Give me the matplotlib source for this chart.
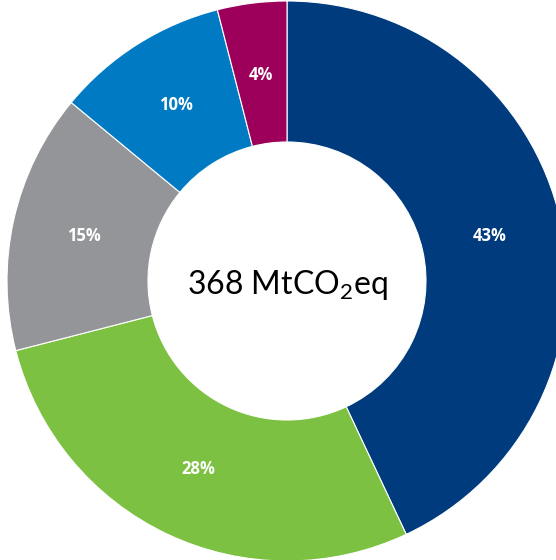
import matplotlib.pyplot as plt
import numpy as np

shares = [43, 28, 15, 10, 4]
labels = ['43%', '28%', '15%', '10%', '4%']
colors = ['#003c7d', '#7dc142', '#939598', '#007bc3', '#9c005a']
total_label = '368 MtCO$_\\mathregular{2}$eq'

fig = plt.figure(figsize=(5.56, 5.60), dpi=100)
ax = fig.add_axes([0, 0, 1, 1])

cx, cy, r = 287, 279, 280
wedges, texts = ax.pie(shares, colors=colors, startangle=90, counterclock=False,
                       center=(cx, cy), radius=r, frame=True,
                       wedgeprops=dict(width=r - 139, edgecolor='white', linewidth=0.8))
ax.set_xlim(0, 556)
ax.set_ylim(0, 560)
ax.axis('off')

for w, lab in zip(wedges, labels):
    ang = np.deg2rad((w.theta1 + w.theta2) / 2)
    ax.text(cx + 208 * np.cos(ang), cy + 208 * np.sin(ang), lab,
            ha='center', va='center', color='white', fontsize=12,
            fontweight='bold', family='Open Sans')

ax.text(cx, cy - 4, total_label, ha='center', va='center', fontsize=23,
        family='Lato', color='black')

fig.savefig('out.png', dpi=100)
